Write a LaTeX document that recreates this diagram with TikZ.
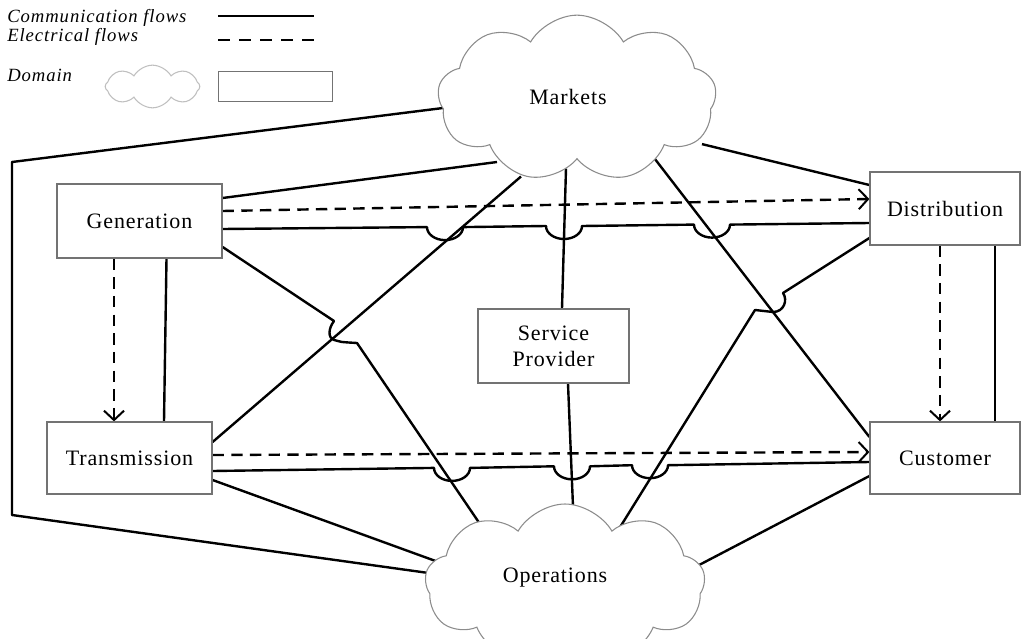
\documentclass[tikz,border=0pt]{standalone}
\usepackage{fontspec}
\setmainfont{Liberation Serif}
\usetikzlibrary{shapes.symbols,arrows.meta,calc,backgrounds}
\begin{document}
\begin{tikzpicture}[x=0.75pt,y=-0.75pt,
  lbl/.style={font=\fontsize{16.5}{19.5}\selectfont\addfontfeature{LetterSpace=4}},
  box/.style={draw=black!55, line width=0.9pt, fill=white, align=center, inner sep=0pt, lbl},
  dom/.style={cloud, cloud puffs=9, cloud puff arc=120, draw=black!45, line width=0.8pt,
    fill=white, inner sep=0pt},
  legtext/.style={anchor=west, inner sep=0pt, font=\fontsize{14}{15}\selectfont\itshape\addfontfeature{LetterSpace=5}},
  comm/.style={line width=1.8pt, black, line join=round},
  elec/.style={line width=1.8pt, black, dash pattern=on 8.5pt off 5.5pt,
    -{Straight Barb[length=7pt,width=15pt,line width=1.5pt]}},
  hop/.style={start angle=180, end angle=0, x radius=18, y radius=13}
]
\useasboundingbox (0,0) rectangle (1025,639);
\clip (0,0) rectangle (1025,639);

% ---------- legend ----------
\node[legtext] (lt1) at (7,18) {Communication flows};
\node[legtext] (lt2) at (7,37) {Electrical flows};
\node[legtext] (lt3) at (7,75) {Domain};
\coordinate (la) at (218,16); \coordinate (lb) at (314,16);
\coordinate (lc) at (218,40); \coordinate (ld) at (314,40);
\draw[comm] (la) -- (lb);
\draw[line width=1.8pt, dash pattern=on 9pt off 6.75pt] (lc) -- (ld);
\node[cloud, cloud puffs=8, cloud puff arc=120, draw=black!25, line width=0.8pt,
  minimum width=71pt, minimum height=32pt] (lcl) at (152.5,86.5) {};
\node[draw=black!55, line width=0.9pt, minimum width=85pt, minimum height=23pt, inner sep=0pt] (lbx) at (275.5,86.5) {};

% ---------- domains ----------
\node[dom, minimum width=209pt, minimum height=125pt,
  label={[lbl, xshift=-6.75pt, yshift=1.5pt]center:Markets}] (mk) at (577,98.5) {};
\node[dom, minimum width=210pt, minimum height=120pt,
  label={[lbl, xshift=-7.5pt, yshift=5pt]center:Operations}] (op) at (565,584) {};
\node[box, minimum width=123.75pt, minimum height=55.5pt] (gen) at (139.5,221) {Generation};
\node[box, minimum width=123.75pt, minimum height=54pt] (trans) at (129.5,458) {Transmission};
\node[box, minimum width=112.5pt, minimum height=54.75pt] (dist) at (945,208.5) {Distribution};
\node[box, minimum width=112.5pt, minimum height=54pt] (cust) at (945,458) {Customer};
\node[box, minimum width=113.25pt, minimum height=55.5pt] (sp) at (553.5,346) {Service\\Provider};

\coordinate (c1) at (12,162);
\coordinate (c2) at (12,515);

% ---------- connectors ----------
\begin{scope}[on background layer]
% outer loop Markets -> Operations
\draw[comm] ($(mk.center)+(-110,6.5)$) -- (c1) -- (c2) -- ($(op.center)+(-122,-9)$);
% Markets links
\draw[comm] ($(gen.east)+(0,-23)$) -- ($(mk.center)+(-80,63.5)$);
\draw[comm] ($(mk.center)+(-56,78)$) -- ($(trans.east)+(0,-16)$);
\draw[comm] ($(mk.center)+(-11,70)$) -- ($(sp.north)+(8.5,0)$);
\draw[comm] ($(mk.center)+(76,58)$) -- ($(cust.west)+(0,-21)$);
\draw[comm] ($(mk.center)+(125,45.6)$) -- ($(dist.west)+(0,-23.5)$);
% Generation -> Distribution with hops
\draw[comm] ($(gen.east)+(0,8)$) -- (427,227.1) arc[hop] -- (546,226) arc[hop]
  -- (694,224.6) arc[hop] -- ($(dist.west)+(0,14.5)$);
% Generation -> Operations
\draw[comm] ($(gen.east)+(0,26)$) -- (334,321) .. controls (328,329) and (328,338) .. (334,340)
  .. controls (340,342) .. (357,343) -- ($(op.center)+(-78.5,-50.4)$);
% Generation -> Transmission
\draw[comm] ($(gen.south)+(27,0)$) -- ($(trans.north)+(34.5,0)$);
\draw[elec] ($(gen.south)+(-25.5,0)$) -- ($(trans.north)+(-15.5,0)$);
% Generation -> Distribution electrical
\draw[elec] ($(gen.east)+(0,-10)$) -- ($(dist.west)+(0,-9.5)$);
% Distribution -> Customer
\draw[elec] ($(dist.south)+(-5,0)$) -- ($(cust.north)+(-5,0)$);
\draw[comm] ($(dist.south)+(50,0)$) -- ($(cust.north)+(50,0)$);
% Distribution -> Operations
\draw[comm] ($(dist.west)+(0,29.5)$) -- (783,293) .. controls (788,300) and (784,312) .. (773,312)
  -- (755,310) -- ($(op.center)+(52.8,-53.2)$);
% Transmission -> Customer
\draw[elec] ($(trans.east)+(0,-3)$) -- ($(cust.west)+(0,-6)$);
\draw[comm] ($(trans.east)+(0,13)$) -- (434,467.9) arc[hop] -- (554,466.3) arc[hop]
  -- (632,465.2) arc[hop] -- ($(cust.west)+(0,4)$);
% Service Provider -> Operations
\draw[comm] ($(sp.south)+(14.5,0)$) -- ($(op.center)+(8.3,-70)$);
% Transmission -> Operations
\draw[comm] ($(trans.east)+(0,22)$) -- ($(op.center)+(-127.5,-22.3)$);
% Customer -> Operations
\draw[comm] ($(cust.west)+(0,18)$) -- ($(op.center)+(110,-6.4)$);
\end{scope}
\end{tikzpicture}
\end{document}
